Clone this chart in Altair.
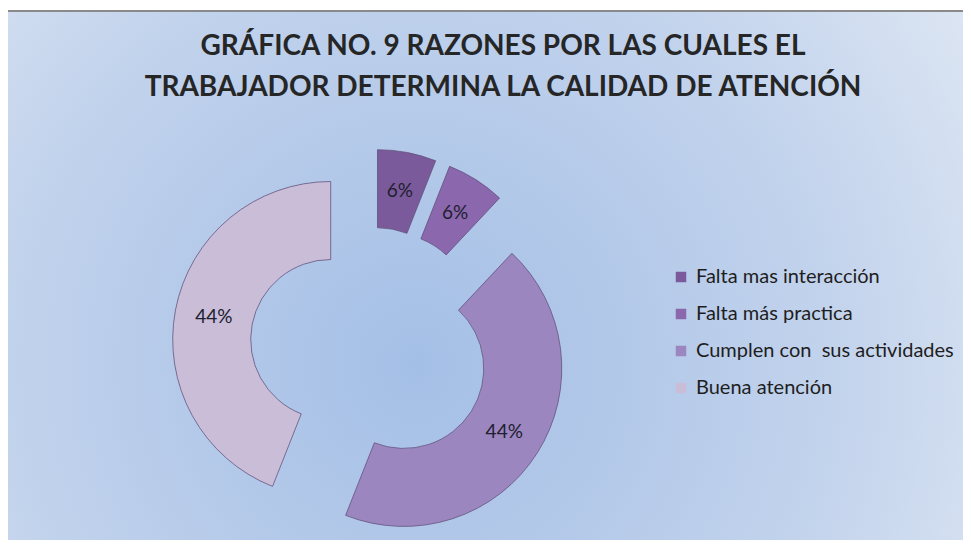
import altair as alt
import pandas as pd

# ---- data ----
categorias = ["Falta mas interacción", "Falta más practica",
              "Cumplen con  sus actividades", "Buena atención"]
porcentajes = [6, 6, 44, 44]
colores = ["#7a5a9b", "#8b67ae", "#9c86c0", "#c9bdd8"]
titulo = ["GRÁFICA NO. 9 RAZONES POR LAS CUALES EL",
          "TRABAJADOR DETERMINA LA CALIDAD DE ATENCIÓN"]

W, H = 955, 532
CX, CY = 362, 339      # pie centre (px)
EXPLODE = 40           # explode distance (px)
R_OUT, R_IN = 158, 80
FONT = "Lato"

df = pd.DataFrame({"categoria": categorias, "valor": porcentajes,
                   "idx": list(range(len(categorias)))})

base = alt.Chart(df).transform_window(
    cum="sum(valor)", sort=[alt.SortField("idx")], frame=[None, 0]
).transform_joinaggregate(
    total="sum(valor)"
).transform_calculate(
    ex=f"{CX} + {EXPLODE}*sin(2*PI*(datum.cum - datum.valor/2)/datum.total)",
    ey=f"{CY} - {EXPLODE}*cos(2*PI*(datum.cum - datum.valor/2)/datum.total)",
    etiqueta="datum.valor + '%'"
).encode(
    theta=alt.Theta("valor:Q", stack=True),
    order=alt.Order("idx:Q"),
    x=alt.X("ex:Q", scale=None, axis=None),
    y=alt.Y("ey:Q", scale=None, axis=None),
)

arcs = base.mark_arc(radius=R_OUT, innerRadius=R_IN, stroke="#5f4d78",
                     strokeWidth=1, strokeOpacity=0.75).encode(
    color=alt.Color(
        "categoria:N",
        scale=alt.Scale(domain=categorias, range=colores),
        sort=categorias,
        legend=alt.Legend(
            title=None, orient="none", legendX=663, legendY=259,
            symbolType="square", symbolSize=110, symbolStrokeWidth=0,
            labelFont=FONT, labelFontSize=20, labelColor="#1e1e1e",
            labelOffset=5, rowPadding=17, labelLimit=400,
            labelExpr="replace(datum.label, '  ', ' \u00a0')",
        ),
    )
)

labels = base.mark_text(radius=(R_OUT + R_IN) / 2, font=FONT, fontSize=19,
                        color="#20202e").encode(text="etiqueta:N")

bg = alt.Chart(alt.Data(values=[{"a": 1}])).mark_rect(
    color=alt.RadialGradient(
        gradient="radial", x1=0.42, y1=0.58, r1=0.0, x2=0.42, y2=0.58, r2=0.75,
        stops=[alt.GradientStop(offset=0, color="#a4bfe6"),
               alt.GradientStop(offset=0.55, color="#c1d2ec"),
               alt.GradientStop(offset=1, color="#e4ebf5")]),
    stroke="#8a8a8a", strokeWidth=2,
).encode(x=alt.value(-2), x2=alt.value(W + 20), y=alt.value(3), y2=alt.value(H + 20))

title = alt.Chart(alt.Data(values=[{"a": 1}])).mark_text(
    font=FONT, fontSize=28, fontWeight="bold", color="#262626",
    align="center", baseline="middle", lineHeight=41,
).encode(x=alt.value(495), y=alt.value(39), text=alt.value(titulo))

chart = alt.layer(bg, title, arcs, labels).properties(
    width=W, height=H, padding=0, autosize=alt.AutoSizeParams(type="none")
).configure_view(stroke=None)

chart.save("out.html", embed_options={"renderer": "svg", "actions": False})
